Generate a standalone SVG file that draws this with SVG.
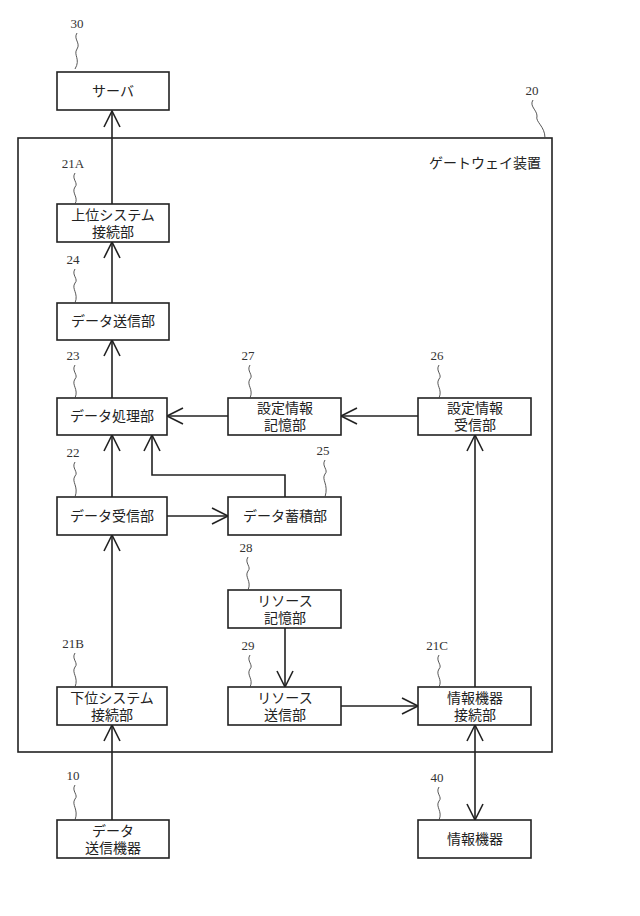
<svg xmlns="http://www.w3.org/2000/svg" width="640" height="916" viewBox="0 0 640 916">
<style>
.b{fill:#fff;stroke:#222;stroke-width:1.6}
.t{font-family:"Liberation Serif","Noto Sans CJK JP",serif;font-size:14px;fill:#222;text-anchor:middle}
.n{font-family:"Liberation Serif","Noto Sans CJK JP",serif;font-size:13px;fill:#333;text-anchor:middle}
.l{fill:none;stroke:#444;stroke-width:0.9}
.c{fill:none;stroke:#222;stroke-width:1.6}
</style>
<defs>
<marker id="a" viewBox="0 0 20 20" refX="18" refY="10" markerWidth="20" markerHeight="20" markerUnits="userSpaceOnUse" orient="auto-start-reverse">
<path d="M2,2 L18,10 L2,18" fill="none" stroke="#222" stroke-width="1.6"/>
</marker>
</defs>
<rect id="n20" x="18" y="138" width="534" height="614" fill="none" stroke="#222" stroke-width="1.6"/>
<text class="t" x="485" y="168">ゲートウェイ装置</text>
<g id="connectors">
<path class="c" d="M112,204 V111" marker-end="url(#a)"/>
<path class="c" d="M112,303 V242" marker-end="url(#a)"/>
<path class="c" d="M112,398 V340" marker-end="url(#a)"/>
<path class="c" d="M112,497 V435" marker-end="url(#a)"/>
<path class="c" d="M112,687 V535" marker-end="url(#a)"/>
<path class="c" d="M112,820 V725" marker-end="url(#a)"/>
<path class="c" d="M228,416 H167" marker-end="url(#a)"/>
<path class="c" d="M418,416 H341" marker-end="url(#a)"/>
<path class="c" d="M285,497 V475 H152 V435" marker-end="url(#a)"/>
<path class="c" d="M167,516 H228" marker-end="url(#a)"/>
<path class="c" d="M285,628 V687" marker-end="url(#a)"/>
<path class="c" d="M341,706 H418" marker-end="url(#a)"/>
<path class="c" d="M475,687 V435" marker-end="url(#a)"/>
<path class="c" d="M475,725 V820" marker-start="url(#a)" marker-end="url(#a)"/>
</g>
<g id="n30"><rect class="b" x="57" y="72" width="112" height="38"/><text class="t" x="113" y="96">サーバ</text></g>
<g id="n21A"><rect class="b" x="57" y="204" width="112" height="38"/><text class="t" x="113" y="220">上位システム</text><text class="t" x="113" y="237">接続部</text></g>
<g id="n24"><rect class="b" x="57" y="303" width="112" height="37"/><text class="t" x="113" y="326">データ送信部</text></g>
<g id="n23"><rect class="b" x="57" y="398" width="110" height="37"/><text class="t" x="112" y="421">データ処理部</text></g>
<g id="n22"><rect class="b" x="57" y="497" width="110" height="38"/><text class="t" x="112" y="521">データ受信部</text></g>
<g id="n21B"><rect class="b" x="57" y="687" width="110" height="38"/><text class="t" x="112" y="703">下位システム</text><text class="t" x="112" y="720">接続部</text></g>
<g id="n10"><rect class="b" x="57" y="820" width="112" height="38"/><text class="t" x="113" y="836">データ</text><text class="t" x="113" y="853">送信機器</text></g>
<g id="n27"><rect class="b" x="228" y="398" width="113" height="37"/><text class="t" x="285" y="413">設定情報</text><text class="t" x="285" y="430">記憶部</text></g>
<g id="n26"><rect class="b" x="418" y="398" width="113" height="37"/><text class="t" x="475" y="413">設定情報</text><text class="t" x="475" y="430">受信部</text></g>
<g id="n25"><rect class="b" x="228" y="497" width="113" height="38"/><text class="t" x="285" y="521">データ蓄積部</text></g>
<g id="n28"><rect class="b" x="228" y="590" width="113" height="38"/><text class="t" x="285" y="606">リソース</text><text class="t" x="285" y="623">記憶部</text></g>
<g id="n29"><rect class="b" x="228" y="687" width="113" height="38"/><text class="t" x="285" y="703">リソース</text><text class="t" x="285" y="720">送信部</text></g>
<g id="n21C"><rect class="b" x="418" y="687" width="113" height="38"/><text class="t" x="475" y="703">情報機器</text><text class="t" x="475" y="720">接続部</text></g>
<g id="n40"><rect class="b" x="418" y="820" width="113" height="38"/><text class="t" x="475" y="844">情報機器</text></g>
<g id="labels">
<text class="n" x="77" y="28">30</text><path class="l" d="M77,33 c-4,6 4,10 0,16 c-4,6 4,10 -2,20"/>
<text class="n" x="532" y="95">20</text><path class="l" d="M533,100 c-4,6 4,10 4,16 c-2,6 8,10 8,22"/>
<text class="n" x="73" y="168">21A</text><path class="l" d="M75,173 c-4,6 4,10 0,14 c-4,6 4,10 0,17"/>
<text class="n" x="73" y="264">24</text><path class="l" d="M75,269 c-4,6 4,10 0,14 c-4,6 4,10 0,20"/>
<text class="n" x="73" y="360">23</text><path class="l" d="M75,365 c-4,6 4,10 0,14 c-4,6 4,10 0,19"/>
<text class="n" x="73" y="457">22</text><path class="l" d="M75,462 c-4,6 4,10 0,14 c-4,6 4,10 0,21"/>
<text class="n" x="73" y="648">21B</text><path class="l" d="M75,653 c-4,6 4,10 0,14 c-4,6 4,10 0,20"/>
<text class="n" x="73" y="780">10</text><path class="l" d="M75,785 c-4,6 4,10 0,14 c-4,6 4,10 0,21"/>
<text class="n" x="248" y="360">27</text><path class="l" d="M250,365 c-4,6 4,10 0,14 c-4,6 4,10 0,19"/>
<text class="n" x="437" y="360">26</text><path class="l" d="M439,365 c-4,6 4,10 0,14 c-4,6 4,10 0,19"/>
<text class="n" x="323" y="455">25</text><path class="l" d="M325,460 c-4,6 4,10 0,14 c-4,6 4,10 0,23"/>
<text class="n" x="246" y="552">28</text><path class="l" d="M248,557 c-4,6 4,10 0,14 c-4,6 4,10 0,19"/>
<text class="n" x="248" y="650">29</text><path class="l" d="M250,655 c-4,6 4,10 0,14 c-4,6 4,10 0,18"/>
<text class="n" x="437" y="650">21C</text><path class="l" d="M439,655 c-4,6 4,10 0,14 c-4,6 4,10 0,18"/>
<text class="n" x="437" y="782">40</text><path class="l" d="M439,787 c-4,6 4,10 0,14 c-4,6 4,10 0,19"/>
</g>
</svg>
